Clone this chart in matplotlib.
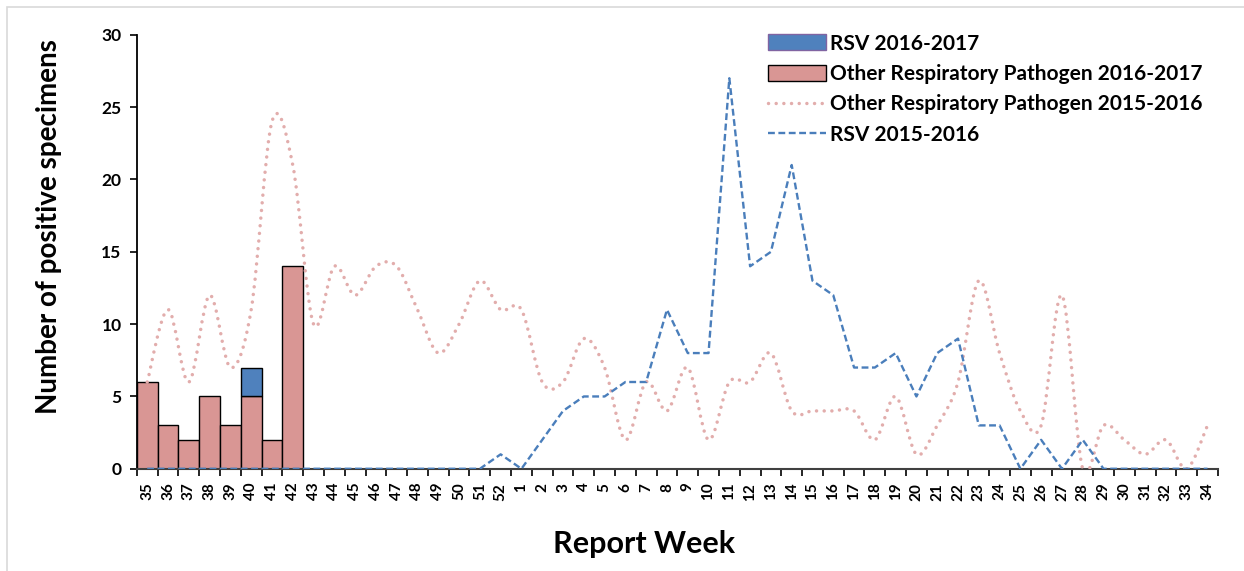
import numpy as np
import matplotlib
matplotlib.use("Agg")
import matplotlib.pyplot as plt
from matplotlib.path import Path
from matplotlib.patches import PathPatch, Patch, Rectangle
from matplotlib.lines import Line2D

plt.rcParams['font.family'] = ['Lato', 'DejaVu Sans']
plt.rcParams['font.weight'] = 'bold'

# report weeks (season runs week 35 -> week 34)
weeks = [str(w) for w in range(35, 53)] + [str(w) for w in range(1, 35)]

# 2016-2017 season so far (weeks 35-42)
other_1617 = [6, 3, 2, 5, 3, 5, 2, 14]
rsv_1617 = [0, 0, 0, 0, 0, 2, 0, 0]

# 2015-2016 season
other_1516 = [6, 11, 6, 12, 7, 11, 24, 21, 10, 14, 12, 14, 14, 11, 8, 10, 13, 11,
              11, 6, 6, 9, 7, 2, 6, 4, 7, 2, 6, 6, 8, 4, 4, 4, 4, 2, 5, 1,
              3, 6, 13, 8, 4, 3, 12, 0, 3, 2, 1, 2, 0, 3]
rsv_1516 = [0, 0, 0, 0, 0, 0, 0, 0, 0, 0, 0, 0, 0, 0, 0, 0, 0, 1,
            0, 2, 4, 5, 5, 6, 6, 11, 8, 8, 27, 14, 15, 21, 13, 12, 7, 7, 8, 5,
            8, 9, 3, 3, 0, 2, 0, 2, 0, 0, 0, 0, 0, 0]

c_bar_other = '#D99694'
c_bar_rsv = '#4F81BD'
c_line_other = '#E2ADAC'
c_line_rsv = '#4A7EBB'


def smooth_path(x, y):
    # Excel-like smoothed line: cubic bezier segments through every point
    n = len(x)
    verts = [(x[0], y[0])]
    codes = [Path.MOVETO]
    for i in range(n - 1):
        a = i - 1 if i > 0 else i
        d = i + 2 if i + 2 < n else i + 1
        c1 = (x[i] + (x[i + 1] - x[a]) / 6, y[i] + (y[i + 1] - y[a]) / 6)
        c2 = (x[i + 1] - (x[d] - x[i]) / 6, y[i + 1] - (y[d] - y[i]) / 6)
        verts += [c1, c2, (x[i + 1], y[i + 1])]
        codes += [Path.CURVE4] * 3
    return Path(verts, codes)


fig = plt.figure(figsize=(12.44, 5.71), dpi=100)
ax = fig.add_axes([0.110, 0.179, 0.869, 0.760])

xpos = np.arange(len(weeks))
xb = xpos[:len(other_1617)]

ax.bar(xb, other_1617, width=1.0, color=c_bar_other, edgecolor='black', linewidth=1, zorder=2)
rsv_arr = np.array(rsv_1617, dtype=float)
mask = rsv_arr > 0
ax.bar(xb[mask], rsv_arr[mask], bottom=np.array(other_1617)[mask], width=1.0,
       color=c_bar_rsv, edgecolor='black', linewidth=1, zorder=2)

dot_style = (0, (0.01, 2.2))
dash_style = (0, (2.9, 1.5))

pp = PathPatch(smooth_path(xpos, other_1516), fill=False, edgecolor=c_line_other,
               linewidth=2.5, linestyle=dot_style, capstyle='round', zorder=3)
ax.add_patch(pp)
ax.plot(xpos, rsv_1516, color=c_line_rsv, linewidth=1.7, linestyle=dash_style,
        dash_capstyle='butt', zorder=4)

ax.set_xlim(-0.5, len(weeks) - 0.5)
ax.set_ylim(0, 30)
ax.set_yticks(range(0, 31, 5))
ax.set_xticks(xpos)
ax.set_xticklabels(weeks, rotation=90, fontsize=11, fontweight='bold')
ax.set_xticks(np.arange(-0.5, len(weeks), 1.0), minor=True)
ax.tick_params(axis='x', which='major', length=0, pad=10)
ax.tick_params(axis='x', which='minor', length=5, width=1.2, direction='out')
ax.tick_params(axis='y', length=5, width=1.2, labelsize=12.5, pad=6)
for lab in ax.get_yticklabels():
    lab.set_fontweight('bold')

for s in ['top', 'right']:
    ax.spines[s].set_visible(False)
ax.spines['left'].set_linewidth(1.3)
ax.spines['bottom'].set_linewidth(1.5)
ax.spines['bottom'].set_color('#404040')

ax.set_ylabel('Number of positive specimens', fontsize=20, fontweight='bold')
ax.yaxis.set_label_coords(-0.069, 0.558)
ax.set_xlabel('Report Week', fontsize=22, fontweight='bold')
ax.xaxis.set_label_coords(0.469, -0.142)

handles = [
    Patch(facecolor=c_bar_rsv, edgecolor='#8064A2', linewidth=1),
    Patch(facecolor=c_bar_other, edgecolor='black', linewidth=1),
    Line2D([], [], color=c_line_other, linewidth=2.5, linestyle=dot_style, dash_capstyle='round'),
    Line2D([], [], color=c_line_rsv, linewidth=1.7, linestyle=dash_style),
]
labels = ['RSV 2016-2017', 'Other Respiratory Pathogen 2016-2017',
          'Other Respiratory Pathogen 2015-2016', 'RSV 2015-2016']
fig.legend(handles, labels, loc='upper left', bbox_to_anchor=(0.602, 0.974),
           frameon=False, handlelength=2.8, handleheight=0.8,
           handletextpad=0.2, labelspacing=0.5, prop={'weight': 'bold', 'size': 15})

# light chart-area border (left and top edges visible)
fig.patches.append(Rectangle((7 / 1244, -0.1), 1.2, 1.1 - 7 / 571,
                             transform=fig.transFigure, fill=False,
                             edgecolor='#D9D9D9', linewidth=1.2))

fig.savefig('out.png', dpi=100)
